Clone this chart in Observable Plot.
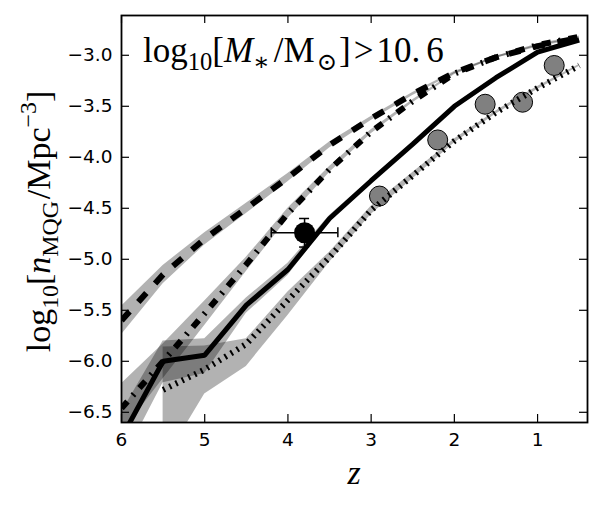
<!DOCTYPE html>
<html>
<head>
<meta charset="utf-8">
<script src="https://cdn.jsdelivr.net/npm/d3@7"></script>
<script src="https://cdn.jsdelivr.net/npm/@observablehq/plot@0.6"></script>
<style>
  html, body { margin: 0; padding: 0; background: #fff; }
</style>
</head>
<body>
<div id="chart"></div>
<script>
// Redshift grid shared by the model curves
const zModel = [6.0, 5.5, 5.0, 4.5, 4.0, 3.5, 3.0, 2.5, 2.0, 1.5, 1.0, 0.5];
const zDotted = [5.5, 5.0, 4.5, 4.0, 3.5, 3.0, 2.5, 2.0, 1.5, 1.0, 0.5];

// Dashed model: log number density and its spread
const dashedN  = [-5.60, -5.15, -4.80, -4.50, -4.20, -3.88, -3.62, -3.38, -3.17, -3.02, -2.91, -2.83];
const dashedLo = [-5.74, -5.24, -4.86, -4.55, -4.24, -3.91, -3.64, -3.395, -3.182, -3.03, -2.92, -2.84];
const dashedHi = [-5.46, -5.06, -4.74, -4.45, -4.16, -3.85, -3.60, -3.365, -3.158, -3.01, -2.90, -2.82];

// Dash-dot model
const dashdotN  = [-6.46, -6.00, -5.53, -5.05, -4.55, -4.12, -3.75, -3.45, -3.18, -3.02, -2.90, -2.82];
const dashdotLo = [-6.70, -6.17, -5.65, -5.12, -4.60, -4.15, -3.77, -3.465, -3.192, -3.03, -2.91, -2.83];
const dashdotHi = [-6.22, -5.83, -5.41, -4.98, -4.50, -4.09, -3.73, -3.435, -3.168, -3.01, -2.89, -2.81];

// Solid model
const solidN  = [-6.75, -6.00, -5.94, -5.45, -5.10, -4.60, -4.23, -3.87, -3.50, -3.22, -2.97, -2.85];
const solidLo = [-7.00, -6.21, -6.12, -5.53, -5.16, -4.63, -4.25, -3.885, -3.51, -3.23, -2.98, -2.86];
const solidHi = [-6.50, -5.80, -5.78, -5.38, -5.04, -4.57, -4.21, -3.855, -3.49, -3.21, -2.96, -2.84];

// Dotted model (starts at z = 5.5)
const dottedN  = [-6.28, -6.08, -5.83, -5.40, -4.98, -4.52, -4.18, -3.84, -3.56, -3.32, -3.10];
const dottedLo = [-7.00, -6.32, -6.05, -5.55, -5.03, -4.56, -4.21, -3.86, -3.575, -3.335, -3.11];
const dottedHi = [-5.86, -5.85, -5.78, -5.32, -4.93, -4.48, -4.15, -3.82, -3.545, -3.305, -3.09];

// Observed densities (grey circles)
const obsZ = [2.9, 2.2, 1.63, 1.18, 0.8];
const obsN = [-4.38, -3.83, -3.48, -3.46, -3.10];

// High-redshift measurement with error bars
const hzZ = [3.8];
const hzN = [-4.74];
const hzZLo = [4.2];
const hzZHi = [3.4];
const hzNLo = [-4.88];
const hzNHi = [-4.60];

// Axes
const xDomain = [6, 0.4];
const yDomain = [-6.6, -2.61];
const xTicks = [6, 5, 4, 3, 2, 1];
const yTicks = [-6.5, -6.0, -5.5, -5.0, -4.5, -4.0, -3.5, -3.0];

const rows = (zs, n, lo, hi) => zs.map((z, i) => ({z, n: n[i], lo: lo[i], hi: hi[i]}));
const dashed = rows(zModel, dashedN, dashedLo, dashedHi);
const dashdot = rows(zModel, dashdotN, dashdotLo, dashdotHi);
const solid = rows(zModel, solidN, solidLo, solidHi);
const dotted = rows(zDotted, dottedN, dottedLo, dottedHi);
const obs = obsZ.map((z, i) => ({z, n: obsN[i]}));
const hz = hzZ.map((z, i) => ({z, n: hzN[i], zlo: hzZLo[i], zhi: hzZHi[i], nlo: hzNLo[i], nhi: hzNHi[i]}));

const W = 602, H = 507;
const mL = 121, mR = 15, mT = 15, mB = 85;
const innerW = W - mL - mR, innerH = H - mT - mB;
const TICK = 8;
const tickFont = "'DejaVu Sans', sans-serif";
const mathFont = "'Liberation Serif', 'DejaVu Serif', serif";

const band = (data) => Plot.areaY(data, {x: "z", y1: "lo", y2: "hi", fill: "black", fillOpacity: 0.3, clip: true});
const curve = (data, opts) => Plot.lineY(data, {x: "z", y: "n", stroke: "black", strokeLinecap: "butt", strokeLinejoin: "miter", clip: true, ...opts});
const tickStyle = {stroke: "black", strokeWidth: 1.2};

const chart = Plot.plot({
  width: W,
  height: H,
  marginLeft: mL,
  marginRight: mR,
  marginTop: mT,
  marginBottom: mB,
  style: {background: "white", overflow: "visible"},
  x: {domain: xDomain},
  y: {domain: yDomain},
  marks: [
    band(dashed),
    band(dashdot),
    band(solid),
    band(dotted),
    Plot.dot(obs, {x: "z", y: "n", r: 10, fill: "#808080", stroke: "black", strokeWidth: 1}),
    curve(dashed, {strokeWidth: 6, strokeDasharray: "12,13"}),
    curve(dashdot, {strokeWidth: 6, strokeDasharray: "9,8,2,8"}),
    curve(solid, {strokeWidth: 5}),
    curve(dotted, {strokeWidth: 6, strokeDasharray: "2,5"}),
    // error bars of the high-z point
    Plot.ruleY(hz, {y: "n", x1: "zlo", x2: "zhi", stroke: "black", strokeWidth: 1.5}),
    Plot.ruleX(hz, {x: "z", y1: "nlo", y2: "nhi", stroke: "black", strokeWidth: 1.5}),
    Plot.ruleX(hz, {x: "zlo", y1: "n", y2: "n", insetTop: -5, insetBottom: -5, stroke: "black", strokeWidth: 1.5}),
    Plot.ruleX(hz, {x: "zhi", y1: "n", y2: "n", insetTop: -5, insetBottom: -5, stroke: "black", strokeWidth: 1.5}),
    Plot.ruleY(hz, {y: "nlo", x1: "z", x2: "z", insetLeft: -5, insetRight: -5, stroke: "black", strokeWidth: 1.5}),
    Plot.ruleY(hz, {y: "nhi", x1: "z", x2: "z", insetLeft: -5, insetRight: -5, stroke: "black", strokeWidth: 1.5}),
    Plot.dot(hz, {x: "z", y: "n", r: 10.5, fill: "black"}),
    // inward ticks on all four sides
    Plot.ruleX(xTicks, {x: d => d, y1: yDomain[0], y2: yDomain[0], insetTop: -TICK, ...tickStyle}),
    Plot.ruleX(xTicks, {x: d => d, y1: yDomain[1], y2: yDomain[1], insetBottom: -TICK, ...tickStyle}),
    Plot.ruleY(yTicks, {y: d => d, x1: xDomain[0], x2: xDomain[0], insetRight: -TICK, ...tickStyle}),
    Plot.ruleY(yTicks, {y: d => d, x1: xDomain[1], x2: xDomain[1], insetLeft: -TICK, ...tickStyle}),
    Plot.axisX({ticks: xTicks, tickSize: 0, tickPadding: 10, tickFormat: d => String(d), label: null,
      fontSize: 18.5, fontFamily: tickFont, fill: "black"}),
    Plot.axisY({ticks: yTicks, tickSize: 0, tickPadding: 9, tickFormat: d3.format(".1f"), label: null,
      fontSize: 18.5, fontFamily: tickFont, fill: "black"}),
    Plot.frame({stroke: "black", strokeWidth: 1.8})
  ]
});

// math-style labels built from tspans
function mathLabel(parent, segs, size, anchor) {
  const text = parent.append("text")
    .attr("font-family", mathFont)
    .attr("font-size", size)
    .attr("text-anchor", anchor)
    .attr("fill", "black");
  let shift = 0;
  for (const s of segs) {
    const target = s.sub ? size * 0.24 : s.sup ? -size * 0.4 : 0;
    const ts = text.append("tspan").text(s.t).attr("dy", target - shift);
    shift = target;
    if (s.sub || s.sup) ts.attr("font-size", size * 0.7);
    if (s.it) ts.attr("font-style", "italic");
    if (s.dx) ts.attr("dx", s.dx);
  }
  return text;
}

const svg = d3.select(chart);
const g = svg.append("g");

// annotation inside the panel
mathLabel(g.append("g").attr("transform", `translate(${mL + 22},${mT + 47})`), [
  {t: "log"}, {t: "10", sub: true}, {t: "["}, {t: "M", it: true}, {t: "\u2217", sub: true},
  {t: "/M", dx: 4}, {t: "\u2299", sub: true, dx: 2}, {t: "]", dx: 2}, {t: ">", dx: 3}, {t: "10.", dx: 3}, {t: "6", dx: 6}
], 35, "start");

// y-axis label
mathLabel(g.append("g").attr("transform", `translate(50,${mT + innerH / 2 + 3})rotate(-90)`), [
  {t: "log"}, {t: "10", sub: true}, {t: "["}, {t: "n", it: true}, {t: "MQG", sub: true},
  {t: "/Mpc", dx: 2}, {t: "\u22123", sup: true}, {t: "]"}
], 34, "middle");

// x-axis label
mathLabel(g.append("g").attr("transform", `translate(${mL + innerW / 2},484)`), [
  {t: "z", it: true}
], 34, "middle");

document.getElementById("chart").append(chart);
</script>
</body>
</html>
